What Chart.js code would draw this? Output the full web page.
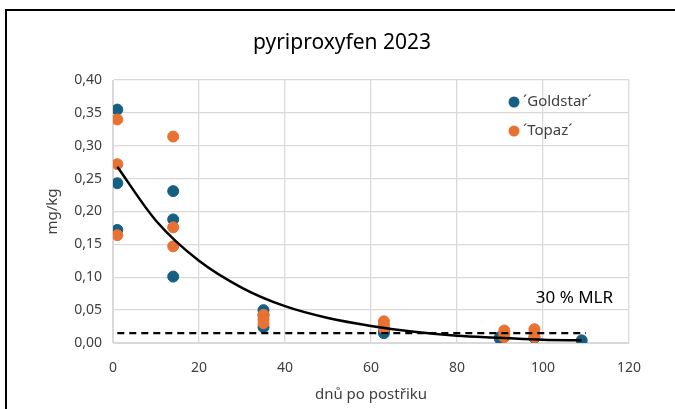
<!DOCTYPE html>
<html>
<head>
<meta charset="utf-8">
<script src="https://cdn.jsdelivr.net/npm/chart.js@4/dist/chart.umd.min.js"></script>
<style>
  html, body { margin: 0; padding: 0; background: #fff; }
  #wrap { position: relative; width: 675px; height: 409px; }
</style>
</head>
<body>
<div id="wrap"><canvas id="c" width="675" height="409"></canvas></div>
<script>
// values
const goldstarDays = [1, 1, 1, 14, 14, 14, 35, 35, 35, 63, 63, 90, 90, 98, 109];
const goldstarVals = [0.355, 0.243, 0.172, 0.231, 0.188, 0.101, 0.050, 0.042, 0.024, 0.015, 0.020, 0.006, 0.009, 0.008, 0.004];

const topazDays = [1, 1, 1, 14, 14, 14, 35, 35, 35, 63, 63, 63, 91, 91, 91, 98, 98, 98];
const topazVals = [0.340, 0.272, 0.164, 0.314, 0.176, 0.147, 0.043, 0.036, 0.030, 0.033, 0.027, 0.022, 0.019, 0.014, 0.009, 0.021, 0.015, 0.009];

// exponential trend line
const trendDays = [1, 10, 20, 30, 40, 50, 60, 70, 80, 90, 100, 109];
const trendVals = [0.268, 0.186, 0.125, 0.084, 0.056, 0.038, 0.026, 0.017, 0.011, 0.008, 0.005, 0.004];

// 30 % MLR level
const mlrDays = [1, 110];
const mlrVals = [0.015, 0.015];

const FONT = '"Noto Sans", "Open Sans", sans-serif';
const BLUE = '#156082';
const ORANGE = '#E97132';

const toPts = (xs, ys) => xs.map((x, i) => ({ x, y: ys[i] }));

// frame, title, legend and MLR label
const extras = {
  id: 'extras',
  beforeDraw(chart) {
    const c = chart.ctx;
    c.save();
    c.fillStyle = '#fff';
    c.fillRect(0, 0, chart.width, chart.height);
    c.strokeStyle = '#000';
    c.lineWidth = 2;
    c.beginPath();
    c.moveTo(6, 409);
    c.lineTo(6, 10);
    c.lineTo(675, 10);
    c.stroke();
    c.font = '21px ' + FONT;
    c.fillStyle = '#000';
    c.textAlign = 'center';
    c.textBaseline = 'middle';
    c.fillText('pyriproxyfen 2023', 342, 43);
    c.restore();
  },
  afterDatasetsDraw(chart) {
    const c = chart.ctx;
    const { x, y } = chart.scales;
    c.save();
    c.font = '15px ' + FONT;
    c.textBaseline = 'middle';
    c.textAlign = 'left';
    [['´Goldstar´', BLUE, 102], ['´Topaz´', ORANGE, 131]].forEach(([txt, col, yy]) => {
      c.fillStyle = col;
      c.beginPath();
      c.arc(514, yy, 5.5, 0, Math.PI * 2);
      c.fill();
      c.fillStyle = '#404040';
      c.fillText(txt, 523, yy);
    });
    c.font = '17px ' + FONT;
    c.fillStyle = '#000';
    c.textAlign = 'right';
    c.fillText('30 % MLR', x.getPixelForValue(116.3), y.getPixelForValue(0.068));
    c.restore();
  }
};

new Chart(document.getElementById('c'), {
  type: 'scatter',
  data: {
    datasets: [
      {
        label: 'trend',
        data: toPts(trendDays, trendVals),
        showLine: true,
        borderColor: '#000',
        borderWidth: 2.5,
        pointRadius: 0,
        cubicInterpolationMode: 'monotone',
        order: 0,
      },
      {
        label: 'MLR',
        data: toPts(mlrDays, mlrVals),
        showLine: true,
        borderColor: '#000',
        borderWidth: 2.3,
        borderDash: [7, 5],
        pointRadius: 0,
        order: 0,
      },
      {
        label: '´Goldstar´',
        data: toPts(goldstarDays, goldstarVals),
        backgroundColor: BLUE,
        borderColor: BLUE,
        pointRadius: 5.5,
        order: 2,
      },
      {
        label: '´Topaz´',
        data: toPts(topazDays, topazVals),
        backgroundColor: ORANGE,
        borderColor: ORANGE,
        pointRadius: 5.5,
        order: 1,
      },
    ],
  },
  options: {
    responsive: false,
    animation: false,
    layout: { padding: { left: 44, right: 46, top: 80, bottom: 0 } },
    plugins: {
      legend: { display: false },
      tooltip: { enabled: false },
      title: { display: false },
    },
    scales: {
      x: {
        type: 'linear',
        min: 0,
        max: 120,
        ticks: { stepSize: 20, color: '#404040', font: { family: FONT, size: 14 }, padding: 17 },
        grid: { color: '#d9d9d9', lineWidth: 1.3, drawTicks: false },
        border: { color: '#d9d9d9' },
        title: {
          display: true,
          text: 'dnů po postřiku',
          color: '#404040',
          font: { family: FONT, size: 15 },
          padding: { top: 4, bottom: 5 },
        },
        afterFit: s => { s.height = 409 - 343; },
      },
      y: {
        min: 0,
        max: 0.4,
        ticks: {
          stepSize: 0.05,
          color: '#404040',
          font: { family: FONT, size: 14 },
          padding: 11,
          callback: v => v.toFixed(2).replace('.', ','),
        },
        grid: { color: '#d9d9d9', lineWidth: 1.3, drawTicks: false },
        border: { color: '#d9d9d9' },
        title: {
          display: true,
          text: 'mg/kg',
          color: '#404040',
          font: { family: FONT, size: 15 },
          padding: { top: 0, bottom: 0 },
        },
        afterFit: s => { s.width = 113 - 44; },
      },
    },
  },
  plugins: [extras],
});
</script>
</body>
</html>
